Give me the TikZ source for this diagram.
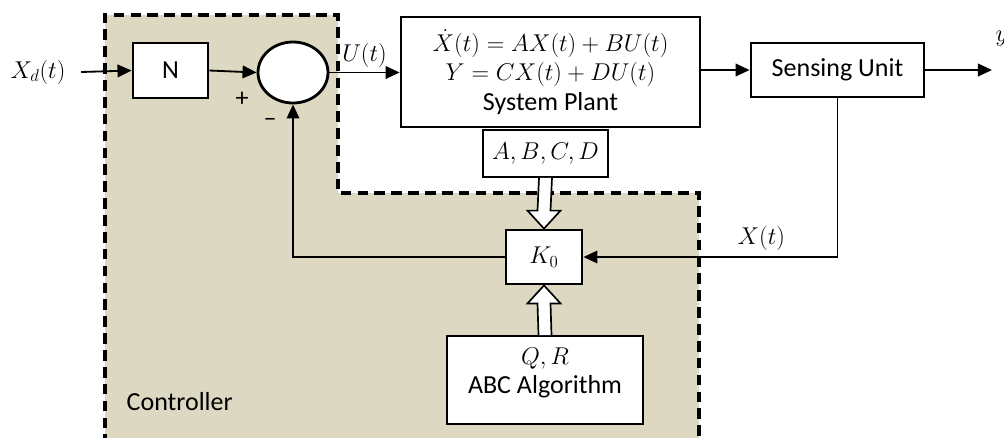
\documentclass[tikz,border=0pt]{standalone}
\usepackage{fontspec}
\setmainfont{Carlito}
\usepackage{xcolor}
\usepackage{tikz}
\usetikzlibrary{arrows.meta,calc,positioning,shapes.geometric}
\definecolor{ctrlCol}{HTML}{DCD8C2}
\newcommand{\pxu}{0.025cm}
\tikzset{
  blk/.style={draw, line width=2pt, fill=white, align=center, inner sep=2pt},
  sumjn/.style={draw, ellipse, line width=2pt, fill=white, minimum width=70*\pxu, minimum height=61*\pxu},
  sig/.style={-{Triangle[length=10pt,width=9pt]}, line width=1.3pt},     % signal path
  fb/.style={-{Triangle[length=10pt,width=9pt]}, line width=0.9pt},      % feedback path
  hollow/.style={draw, fill=white, line width=1.2pt, line join=miter},   % parameter transfer
  ctrlband/.style={dash pattern=on 7.5pt off 4.5pt, line width=2.3pt},
  lbl/.style={inner sep=1pt},
}
\newcommand{\fatarrow}[3]{% #1 from, #2 to, #3 = -1 down / 1 up
  \draw[hollow] ($(#1)+(-6.5,0)$) -- ($(#2)+(-6.5,#3*18)$) -- ($(#2)+(-16.5,#3*18)$)
    -- (#2) -- ($(#2)+(16.5,#3*18)$) -- ($(#2)+(6.5,#3*18)$) -- ($(#1)+(6.5,0)$);}

\begin{document}
\begin{tikzpicture}[x=0.025cm, y=-0.025cm, font=\fontsize{18.5}{21}\selectfont]
  \useasboundingbox (0,0) rectangle (1004,437);

  % controller area
  \fill[ctrlCol] (105,15) -- (338,15) -- (338,193) -- (699,193) -- (699,445) -- (105,445) -- cycle;
  \draw[ctrlband] (105,445) -- (105,15) -- (338,15) -- (338,193) -- (699,193) -- (699,445);
  \node[lbl, anchor=west] (ctrl) at (125,402) {Controller};

  % blocks
  \node[lbl, inner xsep=11pt] (xd) at (38,72) {$X_d(t)$};
  \node[blk, minimum width=75*\pxu, minimum height=55*\pxu] (n) at (170.5,70.5) {N};
  \node[sumjn] (sum) at (293,72.5) {};
  \node[blk, minimum width=299*\pxu, minimum height=110*\pxu] (plant) at (550.5,72)
    {$\dot{X}(t) = AX(t) + BU(t)$\\ $Y = CX(t) + DU(t)$\\ System Plant};
  \node[blk, minimum width=173*\pxu, minimum height=54*\pxu] (sense) at (837.5,70) {Sensing Unit};
  \node[blk, line width=1.2pt, minimum width=125*\pxu, minimum height=47*\pxu] (abcd) at (545.5,153.5) {$A,B,C,D$};
  \node[blk, minimum width=76*\pxu, minimum height=54*\pxu] (k0) at (544,257) {$K_0$};
  \node[blk, line width=1.2pt, minimum width=196*\pxu, minimum height=88*\pxu] (abc) at (545,380)
    {$Q,R$\\ ABC Algorithm\\[-8pt]};
  \node[lbl, anchor=south west] (yout) at (994,48) {$y$};
  \coordinate (out) at (992,70);

  % signals
  \draw[sig] (xd.east) -- (n.west);
  \draw[sig] (n.east) -- (sum.west);
  \node[lbl] (plus) at (242,99) {+};
  \node[lbl] (minus) at (270,122) {--};
  \draw[sig] (sum.east) -- (plant.west|-sum.east) node[lbl, midway, above=2pt] (ut) {$U(t)$};
  \draw[sig] (plant.east|-sense.west) -- (sense.west);
  \draw[sig] (sense.east) -- (out);
  \draw[fb] (sense.south) |- (k0.east) node[lbl, pos=0.65, above=3pt] (xt) {$X(t)$};
  \draw[fb] (k0.west) -| (sum.south);

  % parameter transfer
  \fatarrow{abcd.south}{k0.north}{-1}
  \fatarrow{abc.north}{k0.south}{1}
\end{tikzpicture}
\end{document}
